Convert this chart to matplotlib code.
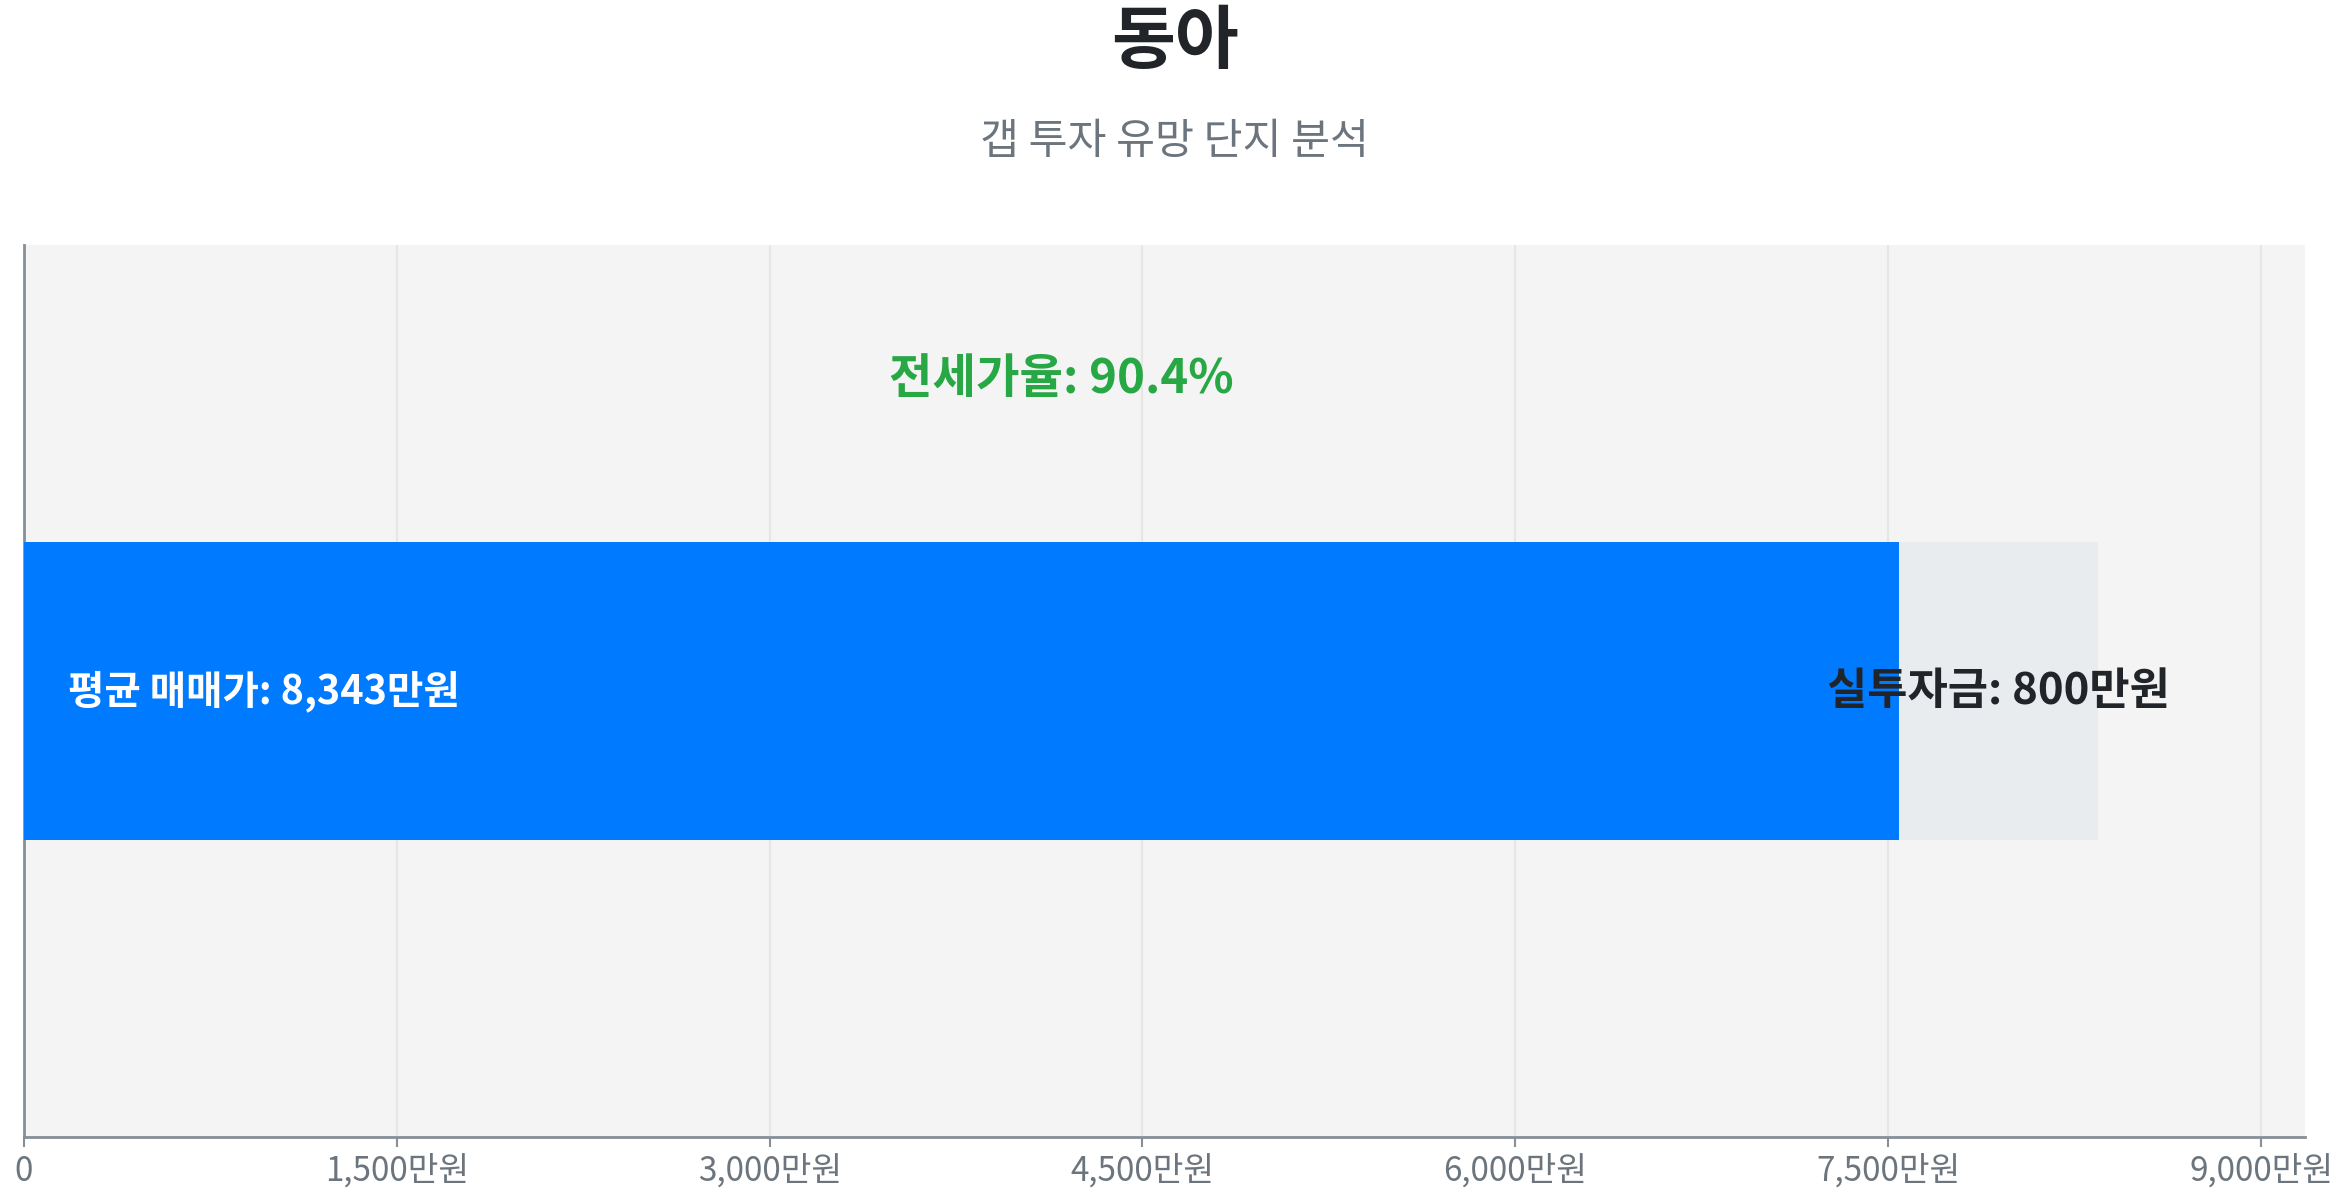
import matplotlib
matplotlib.use("Agg")
import matplotlib.pyplot as plt
from matplotlib.ticker import FuncFormatter, MultipleLocator

plt.rcParams['font.family'] = ['Noto Sans CJK KR', 'DejaVu Sans']

title = "동아"
subtitle = "갭 투자 유망 단지 분석"
avg_price = 8343          # 평균 매매가 (만원)
investment = 800          # 실투자금 (만원)
jeonse_ratio = 90.4       # 전세가율 (%)
jeonse = avg_price - investment
tick_step = 1500

fig = plt.figure(figsize=(23.49, 12), dpi=100)
ax = fig.add_axes([0.0102, 0.0525, 0.9711, 0.7433])
ax.set_facecolor('#f4f4f4')

ax.barh([0], [jeonse], height=1.0, color='#007bff', zorder=3)
ax.barh([0], [investment], left=[jeonse], height=1.0, color='#e9ecef', zorder=3)

ax.set_xlim(0, avg_price * 1.1)
ax.set_ylim(-1.5, 1.5)
ax.xaxis.set_major_locator(MultipleLocator(tick_step))
ax.xaxis.set_major_formatter(FuncFormatter(lambda v, p: "0" if v == 0 else f"{int(v):,}만원"))
ax.set_yticks([])
ax.grid(axis='x', color='#e6e6e6', linewidth=1.5, zorder=0)
ax.set_axisbelow(True)

for s in ['top', 'right']:
    ax.spines[s].set_visible(False)
for s in ['left', 'bottom']:
    ax.spines[s].set_color('#868e96')
    ax.spines[s].set_linewidth(2)
ax.tick_params(axis='x', colors='#868e96', length=7, width=1.5, labelsize=24, labelcolor='#6c757d', pad=5)

ax.text(avg_price * 0.021, 0, f"평균 매매가: {avg_price:,}만원", color='white',
        fontsize=28.5, fontweight='bold', va='center', ha='left', zorder=4)
ax.text(jeonse + investment / 2, 0, f"실투자금: {investment:,}만원", color='#212529',
        fontsize=31.5, fontweight='bold', va='center', ha='center', zorder=4)
ax.text(avg_price / 2, 1.05, f"전세가율: {jeonse_ratio}%", color='#28a745',
        fontsize=34, fontweight='bold', va='center', ha='center', zorder=4)

fig.text(0.5, 1 - 43 / 1200, title, ha='center', va='center', fontsize=50,
         fontweight='bold', color='#212529')
fig.text(0.5, 1 - 142 / 1200, subtitle, ha='center', va='center', fontsize=30.5,
         color='#6c757d')

fig.savefig('out.png', dpi=100)
